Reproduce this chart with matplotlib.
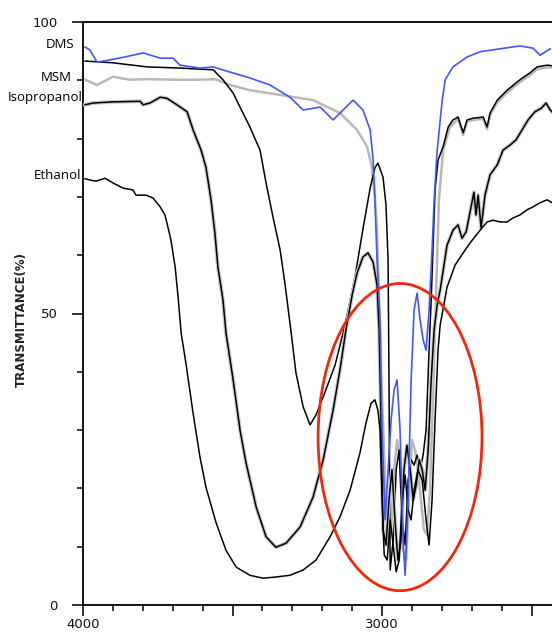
import matplotlib
matplotlib.use("Agg")
import matplotlib.pyplot as plt
import matplotlib.patheffects as pe
from matplotlib.patches import Ellipse

# ---------------- data (wavenumber cm-1, transmittance %) ----------------
dms_wn = [3993, 3977, 3953, 3910, 3860, 3799, 3742, 3699, 3676, 3609, 3565, 3508, 3442, 3375, 3308,
          3264, 3207, 3164, 3097, 3064, 3040, 3030, 3024, 3017, 3007, 3000, 2990, 2980, 2970, 2960,
          2950, 2940, 2930, 2923, 2913, 2903, 2893, 2883, 2873, 2863, 2853, 2843, 2833, 2826, 2816,
          2799, 2789, 2763, 2716, 2672, 2606, 2539, 2495, 2472, 2438]
dms_t = [95.7, 95.2, 93.1, 93.5, 94.0, 94.7, 93.8, 93.8, 92.6, 92.1, 92.3, 91.4, 90.4, 89.2, 87.1,
         84.9, 85.4, 83.2, 86.6, 84.9, 81.5, 76.3, 69.5, 59.2, 48.9, 30.0, 14.6, 23.2, 31.7, 36.9,
         38.6, 30.0, 11.1, 5.1, 18.0, 38.6, 50.6, 53.5, 48.9, 45.5, 43.7, 50.6, 60.9, 69.5, 78.0,
         86.6, 90.1, 92.3, 94.0, 94.9, 95.4, 95.9, 95.5, 94.3, 95.4]

msm_wn = [3993, 3953, 3900, 3843, 3776, 3692, 3609, 3559, 3508, 3442, 3341, 3231, 3141, 3084, 3050,
          3034, 3024, 3017, 3010, 3000, 2990, 2980, 2970, 2960, 2950, 2940, 2930, 2920, 2910, 2900,
          2890, 2880, 2870, 2860, 2850, 2840, 2830, 2820, 2810, 2796, 2773, 2746, 2729, 2716, 2696,
          2662, 2649, 2639, 2615, 2582, 2539, 2505, 2482, 2448, 2432]
msm_t = [90.1, 89.2, 90.6, 90.1, 90.2, 90.1, 90.1, 90.2, 89.2, 88.3, 87.5, 86.6, 84.4, 81.5, 78.6,
         75.1, 70.0, 64.3, 52.3, 35.2, 21.4, 11.1, 12.9, 23.2, 28.3, 24.9, 9.4, 7.7, 18.0, 28.3,
         26.6, 23.2, 18.0, 12.9, 12.0, 19.7, 35.2, 52.3, 69.5, 78.0, 82.0, 83.4, 80.6, 82.9, 83.2,
         83.4, 81.6, 84.0, 86.2, 87.9, 89.7, 90.9, 91.9, 92.2, 92.2]

top_wn = [3993, 3900, 3786, 3676, 3565, 3532, 3498, 3475, 3442, 3408, 3388, 3365, 3341, 3325, 3304,
          3288, 3264, 3241, 3221, 3191, 3157, 3124, 3090, 3064, 3040, 3024, 3014, 2997, 2987, 2980,
          2977, 2973, 2963, 2953, 2943, 2933, 2923, 2913, 2903, 2893, 2883, 2873, 2863, 2853, 2843,
          2836, 2830, 2823, 2813, 2796, 2779, 2763, 2746, 2729, 2716, 2696, 2662, 2649, 2639, 2615,
          2582, 2539, 2505, 2482, 2448, 2432]
top_t = [93.3, 93.0, 92.3, 92.1, 91.8, 90.1, 87.8, 85.4, 82.0, 78.0, 72.4, 66.6, 60.9, 55.2, 46.7,
         39.8, 34.0, 30.9, 32.6, 36.5, 41.2, 48.0, 56.5, 64.5, 71.5, 75.0, 75.8, 73.4, 68.6, 59.2,
         38.6, 6.0, 11.1, 23.2, 26.6, 14.6, 10.3, 21.4, 24.9, 24.0, 25.7, 23.2, 25.7, 30.0, 43.7,
         52.3, 60.9, 71.2, 76.3, 78.6, 82.0, 83.2, 83.7, 81.0, 83.2, 83.5, 83.7, 82.0, 84.4, 86.6,
         88.3, 90.1, 91.3, 92.3, 92.6, 92.5]

iso_wn = [3993, 3967, 3900, 3809, 3799, 3776, 3742, 3719, 3686, 3652, 3632, 3605, 3589, 3572, 3559,
          3549, 3532, 3522, 3498, 3475, 3455, 3421, 3388, 3355, 3321, 3274, 3231, 3197, 3164, 3141,
          3121, 3100, 3084, 3064, 3047, 3030, 3017, 3010, 3003, 2997, 2987, 2977, 2967, 2957, 2947,
          2937, 2927, 2917, 2906, 2896, 2886, 2876, 2866, 2856, 2846, 2836, 2826, 2816, 2806, 2783,
          2763, 2746, 2733, 2719, 2706, 2693, 2686, 2679, 2669, 2656, 2639, 2615, 2596, 2572, 2552,
          2532, 2512, 2489, 2468, 2452, 2438, 2432]
iso_t = [85.8, 86.1, 86.3, 86.4, 85.8, 86.1, 87.1, 86.9, 85.8, 84.6, 81.5, 78.0, 75.1, 69.5, 63.8,
         58.0, 52.3, 46.7, 38.6, 30.0, 24.4, 16.8, 11.7, 9.9, 10.6, 13.4, 18.5, 24.9, 33.4, 40.3,
         47.2, 53.2, 56.9, 59.7, 60.4, 58.8, 54.9, 47.2, 30.0, 12.9, 10.3, 18.0, 23.2, 14.6, 7.7,
         11.1, 23.2, 27.4, 23.2, 18.0, 20.6, 24.9, 23.2, 19.7, 26.6, 38.6, 47.2, 51.5, 54.0, 61.7,
         64.3, 65.2, 62.9, 64.0, 67.4, 70.8, 66.9, 70.3, 64.7, 70.3, 73.8, 75.5, 78.0, 78.9, 79.8,
         81.5, 83.2, 84.6, 85.2, 86.1, 84.9, 84.6]

eth_wn = [3993, 3977, 3957, 3926, 3900, 3866, 3833, 3823, 3789, 3766, 3742, 3726, 3716, 3706, 3692,
          3682, 3672, 3656, 3632, 3609, 3589, 3555, 3522, 3488, 3442, 3398, 3355, 3308, 3264, 3221,
          3174, 3141, 3107, 3074, 3054, 3037, 3024, 3014, 3007, 3000, 2993, 2983, 2973, 2963, 2953,
          2943, 2933, 2923, 2913, 2903, 2893, 2880, 2866, 2853, 2843, 2833, 2823, 2813, 2806, 2783,
          2756, 2729, 2706, 2672, 2649, 2629, 2606, 2582, 2562, 2539, 2515, 2495, 2472, 2448, 2432]
eth_t = [73.1, 72.9, 72.7, 73.2, 72.4, 71.5, 71.2, 70.3, 70.3, 69.8, 68.3, 66.9, 64.8, 62.6, 58.0,
         52.8, 46.7, 41.5, 32.9, 25.4, 20.2, 14.1, 9.4, 6.5, 5.1, 4.6, 4.8, 5.1, 6.0, 7.7,
         11.7, 15.1, 19.7, 26.1, 31.2, 34.6, 35.2, 33.4, 30.0, 18.0, 8.6, 7.7, 14.6, 10.3, 5.7,
         7.7, 18.0, 22.3, 16.3, 14.6, 19.7, 23.2, 21.4, 14.6, 10.3, 18.0, 31.7, 43.7, 48.0, 54.5,
         58.3, 60.4, 62.1, 64.3, 65.7, 66.0, 65.7, 65.7, 66.4, 66.9, 67.8, 68.3, 69.0, 69.5, 69.0]

curve_labels = ["DMS", "MSM", "Isopropanol", "Ethanol"]
curve_label_t = [96.1, 90.5, 87.1, 73.6]
curve_label_wn = [4030, 4037, 4000, 4007]
x_ticks = [4000, 3500, 3000, 2500]
x_ticklabels = ["4000", "", "3000", ""]
y_ticks = [0, 50, 100]
y_ticklabels = ["0", "50", "100"]
ellipse_center = (2940, 28.8)
ellipse_size = (548, 52.7)

# ---------------- figure ----------------
W, H = 552, 632
fig = plt.figure(figsize=(W / 100, H / 100), dpi=100)
ax = fig.add_axes([83 / W, (H - 605) / H, 469 / W, 583 / H])
ax.set_xlim(4000, 2432)
ax.set_ylim(0, 100)

shadow = [pe.Stroke(linewidth=2.8, foreground="#c9c9c9"), pe.Normal()]
ax.plot(msm_wn, msm_t, color="#b8b8b8", lw=1.8, zorder=2)
ax.plot(top_wn, top_t, color="black", lw=1.1, zorder=3)
ax.plot(iso_wn, iso_t, color="black", lw=1.1, zorder=3, path_effects=shadow)
ax.plot(eth_wn, eth_t, color="black", lw=1.1, zorder=3)
ax.plot(dms_wn, dms_t, color="#4255ff", lw=1.2, zorder=4)

ax.add_patch(Ellipse(ellipse_center, ellipse_size[0], ellipse_size[1], fill=False,
                     edgecolor="#f2280c", lw=2.0, zorder=6, clip_on=False))

for s in ["left", "bottom", "top"]:
    ax.spines[s].set_linewidth(1.3)
ax.spines["right"].set_visible(False)

ax.set_xticks(x_ticks)
ax.set_xticklabels(x_ticklabels)
ax.set_xticks(list(range(4000, 2400, -100)), minor=True)
ax.set_yticks(y_ticks)
ax.set_yticklabels(y_ticklabels)
ax.set_yticks(list(range(0, 101, 10)), minor=True)
ax.tick_params(axis="both", which="major", length=8, width=1.2, direction="out",
               labelsize=9.5, colors="#111111")
ax.tick_params(axis="both", which="minor", length=4.5, width=1.1, direction="out")
ax.tick_params(axis="y", which="major", pad=10)
ax.tick_params(axis="x", which="major", pad=1)

ax.set_ylabel("TRANSMITTANCE(%)", fontsize=8.5, fontweight="bold", color="#222222")
ax.yaxis.set_label_coords(-0.118, 0.49)

for name, t, xx in zip(curve_labels, curve_label_t, curve_label_wn):
    ax.text(xx, t, name, ha="right", va="center", fontsize=9.5,
            family=["Open Sans", "DejaVu Sans"], clip_on=False, zorder=7)

fig.savefig("out.png", dpi=100, facecolor="white")
